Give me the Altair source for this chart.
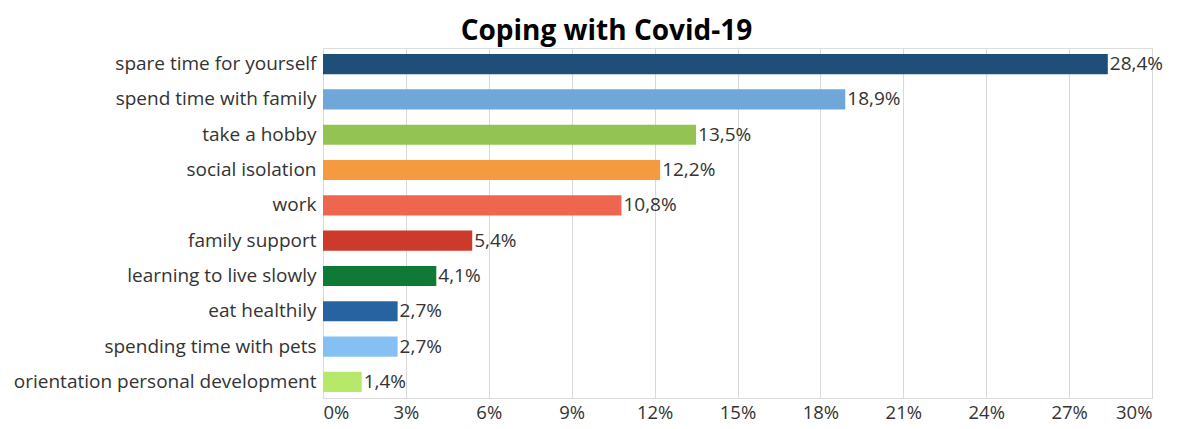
import altair as alt
import pandas as pd

categories = [
    "spare time for yourself",
    "spend time with family",
    "take a hobby",
    "social isolation",
    "work",
    "family support",
    "learning to live slowly",
    "eat healthily",
    "spending time with pets",
    "orientation personal development",
]
values = [28.4, 18.9, 13.5, 12.2, 10.8, 5.4, 4.1, 2.7, 2.7, 1.4]
colors = ["#1f4e79", "#6fa7d8", "#92c353", "#f59b3f", "#ee6650",
          "#cc3a2b", "#0f7a38", "#2763a0", "#84c1f2", "#b8e86a"]
x_ticks = [0, 3, 6, 9, 12, 15, 18, 21, 24, 27, 30]

df = pd.DataFrame({
    "cat": categories,
    "val": values,
    "color": colors,
    "label": [f"{v:.1f}%".replace(".", ",") for v in values],
})

FONT = "Open Sans"

base = alt.Chart(df).encode(
    y=alt.Y("cat:N", sort=categories, title=None,
            scale=alt.Scale(paddingInner=0.43, paddingOuter=0.17),
            axis=alt.Axis(ticks=False, domain=False, labelFontSize=19,
                          labelFont=FONT, labelColor="#333333", labelPadding=7,
                          labelLimit=400)),
)

bars = base.mark_bar().encode(
    x=alt.X("val:Q", title=None,
            scale=alt.Scale(domain=[0, 30], nice=False),
            axis=alt.Axis(values=x_ticks, labelExpr="datum.value + '%'",
                          labelFontSize=18.5, labelFont=FONT, labelColor="#333333",
                          ticks=False, domainColor="#d9d9d9", gridColor="#d9d9d9",
                          labelPadding=5)),
    color=alt.Color("color:N", scale=None, legend=None),
)

text = base.mark_text(align="left", baseline="middle", dx=2, fontSize=19,
                      font=FONT, color="#333333").encode(
    x=alt.X("val:Q"),
    text="label:N",
)

chart = (bars + text).properties(
    width=829,
    height=350,
    autosize=alt.AutoSizeParams(type="none"),
    padding={"left": 315, "top": 40, "right": 20, "bottom": 30},
    title=alt.TitleParams("Coping with Covid-19", fontSize=28, font=FONT,
                          fontWeight="bold", color="#000000", dx=-131,
                          offset=2, anchor="middle"),
).configure_view(stroke=None).configure(background="white")

chart.save("out.html", embed_options={"renderer": "svg", "actions": False})
